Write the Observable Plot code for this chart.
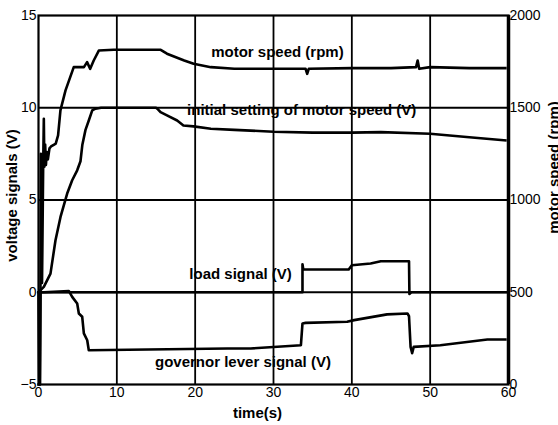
<!DOCTYPE html>
<html>
<head>
<meta charset="utf-8">
<script src="https://cdn.jsdelivr.net/npm/d3@7"></script>
<script src="https://cdn.jsdelivr.net/npm/@observablehq/plot@0.6"></script>
<style>
  html, body { margin: 0; padding: 0; background: #fff; }
  #chart { width: 558px; height: 425px; overflow: hidden; }
</style>
</head>
<body>
<div id="chart"></div>
<script>
// ---- data ----
const motorTime = [0, 0.15, 0.25, 0.3, 0.45, 0.6, 0.68, 0.75, 0.85, 0.95, 1.05, 1.2, 1.4, 1.6, 2.0, 2.2, 2.5, 2.8, 3.45, 4.5, 5.8, 6.2, 6.6, 7.05, 7.7, 9.6, 15.6, 16.4, 18.6, 19.8, 22, 25, 30, 34.1, 34.3, 34.5, 40, 45, 48.2, 48.4, 48.6, 50, 55, 59.6];
const motorRpm  = [0, 0, 500, 1250, 550, 1200, 1440, 1180, 1300, 1190, 1260, 1220, 1280, 1290, 1300, 1305, 1350, 1486, 1594, 1720, 1720, 1747, 1711, 1756, 1810, 1814, 1814, 1793, 1756, 1738, 1720, 1711, 1711, 1711, 1684, 1711, 1715, 1715, 1720, 1756, 1711, 1720, 1715, 1715];

const settingTime = [0, 0.68, 1.53, 2.17, 2.81, 3.66, 4.3, 4.94, 5.36, 5.6, 6.0, 6.42, 6.86, 7.28, 8, 15.0, 15.16, 15.58, 16.4, 17.7, 18.5, 19.8, 22, 25, 30, 35, 40, 43.7, 50, 55, 59.6];
const settingV    = [0, 0.29, 1.01, 2.82, 4.08, 5.35, 6.07, 6.61, 7.1, 8.0, 8.8, 9.31, 9.86, 9.95, 10, 10, 9.95, 9.76, 9.59, 9.31, 9.04, 8.99, 8.86, 8.8, 8.7, 8.65, 8.65, 8.68, 8.59, 8.4, 8.23];

const loadTime = [0, 33.7, 33.7, 33.8, 34.0, 39.6, 40.0, 42.4, 43.7, 47.3, 47.35, 47.6, 60];
const loadV    = [0, 0, 1.52, 1.23, 1.23, 1.23, 1.46, 1.56, 1.68, 1.68, -0.09, 0, 0];

const govTime = [0, 0.1, 0.2, 0.25, 0.68, 3.87, 4.3, 4.94, 5.15, 5.58, 5.79, 6.22, 6.42, 24.1, 27.1, 33.5, 33.7, 34.1, 39.4, 40.3, 44.5, 47.1, 47.3, 47.5, 47.7, 47.9, 51.3, 57.3, 59.6];
const govV    = [0, -5, -5, 0, 0, 0.07, -0.25, -0.61, -1.15, -1.33, -2.23, -2.6, -3.14, -3.05, -3.05, -2.87, -1.69, -1.66, -1.6, -1.51, -1.2, -1.15, -1.3, -2.96, -3.3, -2.96, -2.87, -2.56, -2.56];

const xTicks = [0, 10, 20, 30, 40, 50, 60];
const yTicks = [-5, 0, 5, 10, 15];
const rpmTicks = [0, 500, 1000, 1500, 2000];

const seriesLabels = ["motor speed (rpm)", "initial setting of motor speed (V)", "load signal (V)", "governor lever signal (V)"];

// ---- build ----
const rpmToV = r => r / 100 - 5;
const motor = motorTime.map((t, i) => ({t, v: rpmToV(motorRpm[i])}));
const setting = settingTime.map((t, i) => ({t, v: settingV[i]}));
const load = loadTime.map((t, i) => ({t, v: loadV[i]}));
const gov = govTime.map((t, i) => ({t, v: govV[i]}));

const labelPos = [
  {text: seriesLabels[0], t: 30.5, v: 13.0},
  {text: seriesLabels[1], t: 33.6, v: 9.88},
  {text: seriesLabels[2], t: 25.8, v: 1.0},
  {text: seriesLabels[3], t: 26.1, v: -3.77}
];

const font = "'Liberation Sans', Arial, sans-serif";
const lineStyle = {x: "t", y: "v", stroke: "black", strokeWidth: 2.6, strokeLinejoin: "round", strokeLinecap: "square"};

const chart = Plot.plot({
  width: 558,
  height: 425,
  marginLeft: 38,
  marginRight: 50,
  marginTop: 15,
  marginBottom: 41,
  style: {fontFamily: font, fontSize: "14px", background: "white", color: "black", overflow: "visible"},
  x: {domain: [0, 60]},
  y: {domain: [-5, 15]},
  marks: [
    Plot.ruleX(xTicks.slice(1, -1), {stroke: "black", strokeWidth: 1.8}),
    Plot.ruleY(yTicks.slice(1, -1), {stroke: "black", strokeWidth: 1.8}),
    Plot.line(load, lineStyle),
    Plot.line(gov, lineStyle),
    Plot.line(setting, lineStyle),
    Plot.line(motor, lineStyle),
    Plot.frame({stroke: "black", strokeWidth: 2.2}),
    Plot.ruleX([60], {stroke: "black", strokeWidth: 3.5}),
    Plot.axisX({ticks: xTicks, tickSize: 0, tickPadding: 3, label: null, fontSize: 14}),
    Plot.axisY({ticks: yTicks, tickSize: 0, tickPadding: 2, label: null, fontSize: 14}),
    Plot.axisY({anchor: "right", ticks: rpmTicks.map(rpmToV), tickFormat: v => String(Math.round((v + 5) * 100)), tickSize: 0, tickPadding: 1, label: null, fontSize: 14}),
    Plot.text(labelPos, {x: "t", y: "v", text: "text", fontWeight: "bold", fontSize: 15, fill: "black"}),
    Plot.text(["voltage signals (V)"], {frameAnchor: "left", textAnchor: "middle", rotate: -90, dx: -26, dy: -4.5, fontWeight: "bold", fontSize: 15, fill: "black"}),
    Plot.text(["motor speed (rpm)"], {frameAnchor: "right", textAnchor: "middle", rotate: -90, dx: 46, dy: -32.5, fontWeight: "bold", fontSize: 15, fill: "black"}),
    Plot.text(["time(s)"], {frameAnchor: "bottom", textAnchor: "middle", dy: 33, dx: -16, fontWeight: "bold", fontSize: 15, fill: "black"})
  ]
});
document.getElementById("chart").appendChild(chart);
</script>
</body>
</html>
